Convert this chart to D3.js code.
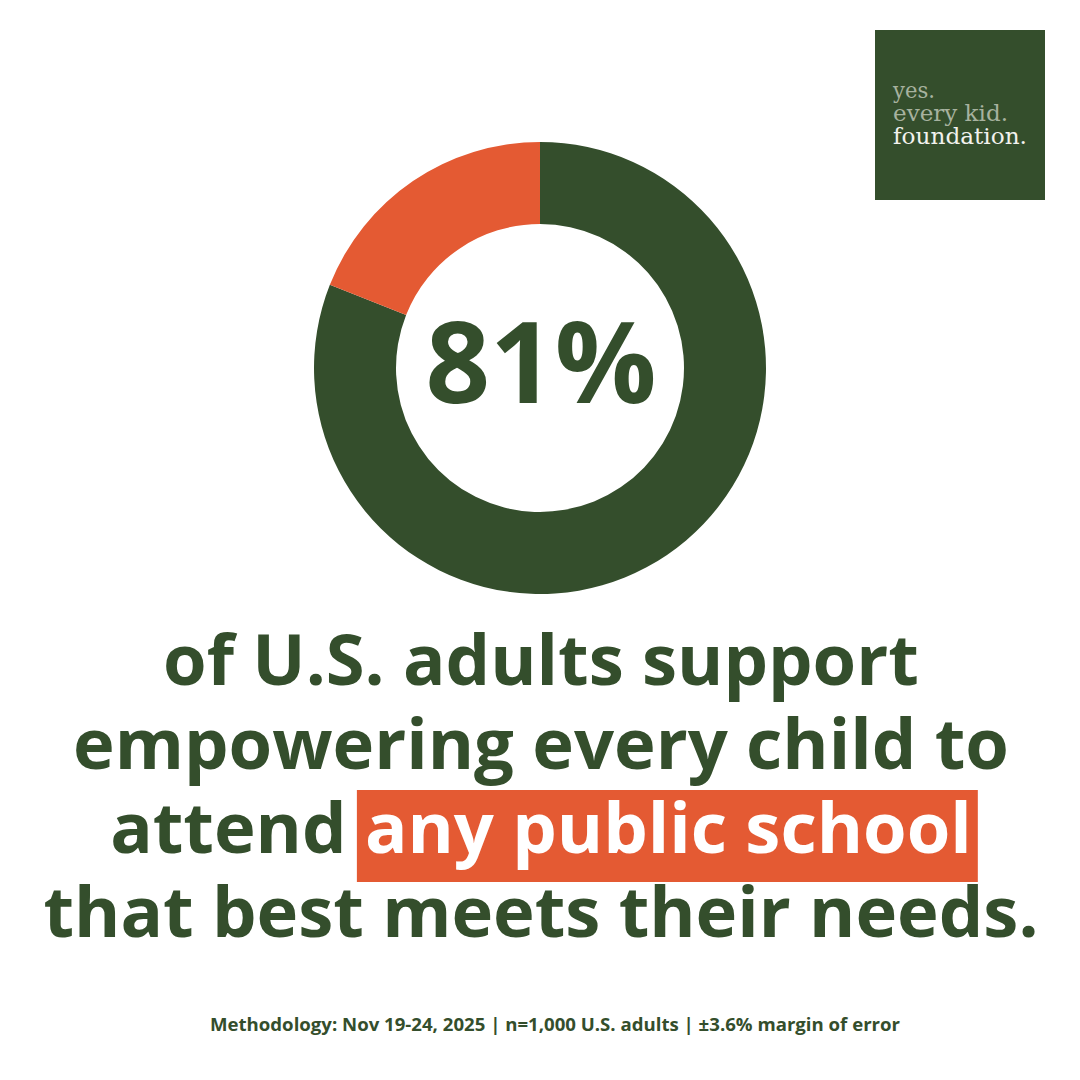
<!DOCTYPE html>
<html>
<head>
<meta charset="utf-8">
<script src="https://cdn.jsdelivr.net/npm/d3@7"></script>
<style>
  body { margin: 0; background: #fff; }
  svg { display: block; font-family: 'Open Sans', sans-serif; }
</style>
</head>
<body>
<div class="graph-container"></div>
<script>
var svgWidth = 1080;
var svgHeight = 1080;

var GREEN = '#344e2c';
var ORANGE = '#e45a33';

// share of U.S. adults
var categories = ['Support', 'Other'];
var shares = [81, 19];
var sliceColors = [GREEN, ORANGE];

var bigLabel = '81%';
var headlineLines = [
  ['of U.S. adults support'],
  ['empowering every child to'],
  ['attend ', 'any public school'],
  ['that best meets their needs.']
];
var footnote = 'Methodology: Nov 19-24, 2025 | n=1,000 U.S. adults | \u00b13.6% margin of error';
var logoLines = ['yes.', 'every kid.', 'foundation.'];

var svg = d3.select('.graph-container').append('svg')
  .attr('width', svgWidth)
  .attr('height', svgHeight);

// donut
var cx = 540, cy = 368;
var pie = d3.pie().sort(null).value(function(d) { return d; });
var arc = d3.arc().innerRadius(144).outerRadius(226);

var donut = svg.append('g')
  .attr('transform', 'translate(' + cx + ',' + cy + ')');

donut.selectAll('path')
  .data(pie(shares))
  .enter()
  .append('path')
  .attr('d', arc)
  .attr('fill', function(d, i) { return sliceColors[i]; });

donut.append('text')
  .attr('x', 1)
  .attr('y', 35)
  .attr('text-anchor', 'middle')
  .style('font-size', '113px')
  .style('font-weight', 700)
  .attr('fill', GREEN)
  .text(bigLabel);

// headline
var baselines = [685, 769, 853, 937];
var headline = svg.append('g');
headlineLines.forEach(function(parts, i) {
  var t = headline.append('text')
    .attr('x', 541)
    .attr('y', baselines[i])
    .attr('text-anchor', 'middle')
    .style('font-size', '70.5px')
    .style('font-weight', 700)
    .attr('fill', GREEN);
  parts.forEach(function(p, j) {
    t.append('tspan')
      .attr('class', j === 1 ? 'hl' : null)
      .text(p);
  });
});

// orange highlight box behind "any public school"
var hl = headline.select('tspan.hl');
if (!hl.empty()) {
  var b = hl.node().getBBox();
  headline.insert('rect', ':first-child')
    .attr('x', b.x - 8)
    .attr('y', 790)
    .attr('width', b.width + 14)
    .attr('height', 92)
    .attr('fill', ORANGE);
  hl.attr('fill', '#fff');
}

// footnote
svg.append('text')
  .attr('x', 555)
  .attr('y', 1031)
  .attr('text-anchor', 'middle')
  .style('font-size', '18px')
  .style('font-weight', 700)
  .attr('fill', GREEN)
  .attr('textLength', 690)
  .attr('lengthAdjust', 'spacingAndGlyphs')
  .text(footnote);

// logo
var logo = svg.append('g');
logo.append('rect')
  .attr('x', 875)
  .attr('y', 30)
  .attr('width', 170)
  .attr('height', 170)
  .attr('fill', GREEN);

var logoY = [98, 121, 144];
var logoLen = [42, 115, 134];
logoLines.forEach(function(line, i) {
  logo.append('text')
    .attr('x', 893)
    .attr('y', logoY[i])
    .style('font-family', "'DejaVu Serif', serif")
    .style('font-size', '22px')
    .attr('fill', i === 2 ? '#f2f2ee' : '#a7b29f')
    .attr('textLength', logoLen[i])
    .attr('lengthAdjust', 'spacingAndGlyphs')
    .text(line);
});
</script>
</body>
</html>
